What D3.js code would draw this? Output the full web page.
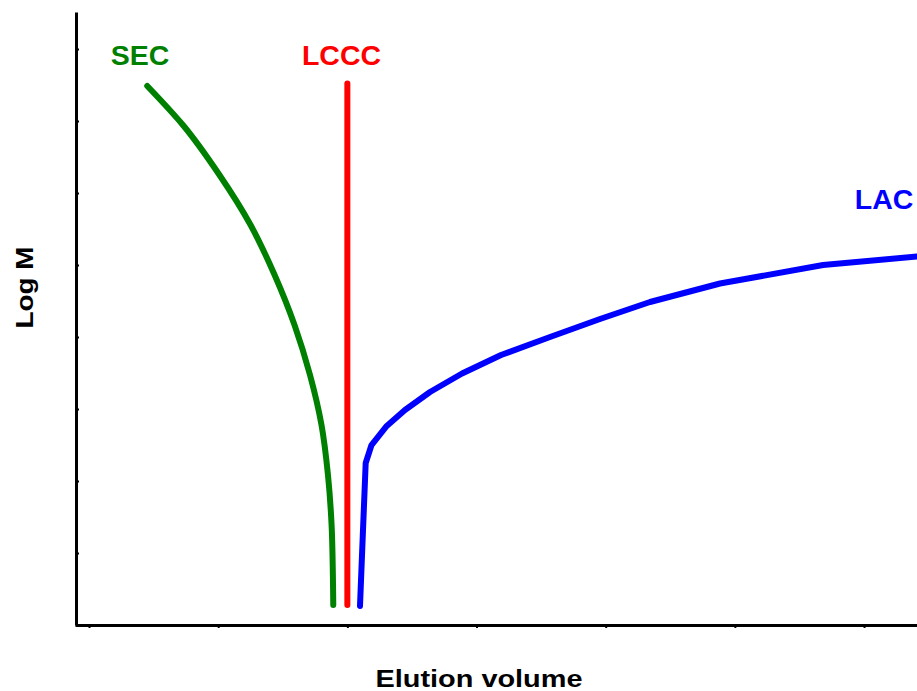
<!DOCTYPE html>
<html>
<head>
<meta charset="utf-8">
<script src="https://cdn.jsdelivr.net/npm/d3@7"></script>
<style>
  html, body { margin: 0; padding: 0; background: #fff; }
  svg { display: block; }
  text { font-family: "Liberation Sans", Arial, sans-serif; font-weight: bold; }
</style>
</head>
<body>
<svg id="chart" width="917" height="691"></svg>
<script>
// Retention curves: elution volume (x) vs. log molar mass (y)
const secX = [0.451, 0.727, 1.010, 1.251, 1.437, 1.591, 1.711, 1.800, 1.850, 1.878, 1.888, 1.891];
const secY = [7.486, 6.944, 6.250, 5.556, 4.861, 4.167, 3.472, 2.778, 2.083, 1.389, 0.694, 0.278];

const lcccX = [2.0, 2.0];
const lcccY = [7.52, 0.278];

const lacX = [2.098, 2.119, 2.142, 2.187, 2.305, 2.446, 2.640, 2.888, 3.190, 3.569, 3.956, 4.343, 4.885, 5.683, 6.410];
const lacY = [0.264, 1.222, 2.250, 2.500, 2.764, 2.986, 3.236, 3.493, 3.750, 4.000, 4.250, 4.486, 4.743, 5.000, 5.118];

const xTicks = [0, 1, 2, 3, 4, 5, 6];
const yTicks = [1, 2, 3, 4, 5, 6, 7, 8];

const modeLabels = ["SEC", "LCCC", "LAC"];
const labelX = [0.395, 1.955, 6.155];
const labelY = [7.78, 7.78, 5.78];

const xTitle = "Elution volume";
const yTitle = "Log M";

const svg = d3.select("#chart");

const x = d3.scaleLinear().domain([-0.1084, 6.41]).range([75, 917]);
const y = d3.scaleLinear().domain([0, 8.514]).range([625, 12]);

// Axes: no tick labels, y ticks point inward, x ticks point down
const xAxis = svg.append("g")
  .attr("transform", `translate(0,${y(0)})`)
  .call(d3.axisBottom(x).tickValues(xTicks).tickFormat("").tickSizeInner(3).tickSizeOuter(0));
const yAxis = svg.append("g")
  .attr("transform", `translate(${x.range()[0] + 1},0)`)
  .call(d3.axisLeft(y).tickValues(yTicks).tickFormat("").tickSizeInner(-3).tickSizeOuter(0));

[xAxis, yAxis].forEach(g => {
  g.select(".domain").attr("stroke", "#000").attr("stroke-width", 3);
  g.selectAll(".tick line").attr("stroke", "#000").attr("stroke-width", 2);
});

const series = [
  { xs: secX, ys: secY, color: "#008000", curve: d3.curveMonotoneY },
  { xs: lcccX, ys: lcccY, color: "#ff0000", curve: d3.curveLinear },
  { xs: lacX, ys: lacY, color: "#0000ff", curve: d3.curveLinear }
];

series.forEach(s => {
  const pts = s.xs.map((v, i) => [v, s.ys[i]]);
  svg.append("path")
    .datum(pts)
    .attr("fill", "none")
    .attr("stroke", s.color)
    .attr("stroke-width", 6)
    .attr("stroke-linecap", "round")
    .attr("stroke-linejoin", "round")
    .attr("d", d3.line().x(d => x(d[0])).y(d => y(d[1])).curve(s.curve));
});

// Mode labels
modeLabels.forEach((t, i) => {
  svg.append("text")
    .attr("x", x(labelX[i]))
    .attr("y", y(labelY[i]))
    .attr("text-anchor", "middle")
    .attr("font-size", 28.5)
    .attr("fill", series[i].color)
    .text(t);
});

// Axis titles
svg.append("text")
  .attr("x", 479)
  .attr("y", 687)
  .attr("text-anchor", "middle")
  .attr("font-size", 23)
  .attr("textLength", 207)
  .attr("lengthAdjust", "spacingAndGlyphs")
  .attr("fill", "#000")
  .text(xTitle);

svg.append("text")
  .attr("transform", "translate(33,287.5) rotate(-90)")
  .attr("text-anchor", "middle")
  .attr("font-size", 24)
  .attr("textLength", 82)
  .attr("lengthAdjust", "spacingAndGlyphs")
  .attr("fill", "#000")
  .text(yTitle);
</script>
</body>
</html>
